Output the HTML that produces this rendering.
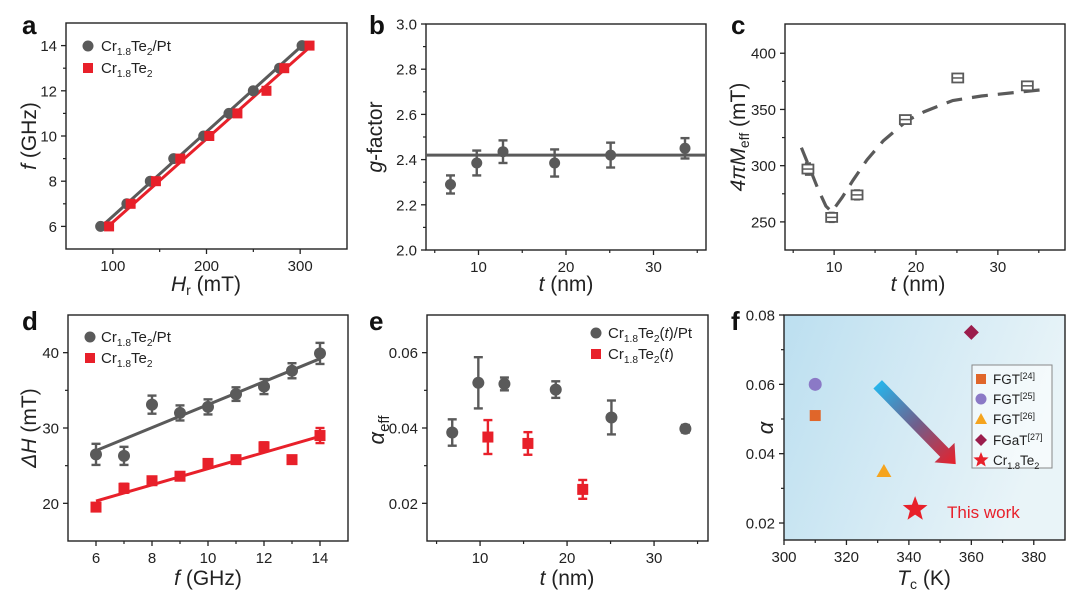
<!DOCTYPE html>
<html><head><meta charset="utf-8"><style>
html,body{margin:0;padding:0;background:#fff;}
svg{display:block;font-family:"Liberation Sans",Arial,sans-serif;}
</style></head><body>
<svg id="fig" width="1080" height="607" viewBox="0 0 1080 607" xmlns="http://www.w3.org/2000/svg">
<defs>
<linearGradient id="bgf" x1="0" y1="0" x2="1" y2="0.3">
<stop offset="0" stop-color="#bcdff0"/><stop offset="1" stop-color="#e9f4f8"/>
</linearGradient>
<linearGradient id="arrg" x1="0" y1="0" x2="1" y2="1">
<stop offset="0" stop-color="#2eb3e6"/><stop offset="0.5" stop-color="#7a5a8a"/><stop offset="1" stop-color="#e8202a"/>
</linearGradient>
</defs>
</svg>
<script>
// ---------- data ----------
const aGrayH=[87,115,140,165,197,224,250,278,302];
const aGrayF=[6,7,8,9,10,11,12,13,14];
const aRedH=[96,119,146,172,203,233,264,283,310];
const aRedF=[6,7,8,9,10,11,12,13,14];
const aGrayFit=[[88,6],[302,14]];
const aRedFit=[[95,6],[312,14]];

const bT=[6.8,9.8,12.8,18.7,25.1,33.6];
const bG=[2.29,2.385,2.435,2.385,2.42,2.45];
const bErr=[0.04,0.055,0.05,0.06,0.055,0.045];
const bFit=2.42;

const cT=[6.8,9.7,12.8,18.7,25.1,33.6];
const cM=[297,254,274,341,378,371];
const cErr=[5,4,4,3,3,3];
const cCurveT=[6,7,8,9,9.7,11,12.3,14,16,18.9,21,24.5,28,32,36];
const cCurveM=[316,298,280,264,259,272,287,305,322,340,348,358,362,365,368];

const dF=[6,7,8,9,10,11,12,13,14];
const dGray=[26.5,26.3,33.1,32.0,32.8,34.5,35.5,37.6,39.9];
const dGrayErr=[1.4,1.2,1.2,1.0,1.0,0.9,1.0,1.0,1.4];
const dRed=[19.5,22.0,23.0,23.6,25.3,25.8,27.5,25.8,29.0];
const dRedErr=[0.5,0.6,0.5,0.5,0.5,0.5,0.6,0.3,1.0];
const dGrayFit=[[6,27.0],[14,39.2]];
const dRedFit=[[6,20.3],[14,28.9]];

const eGrayT=[6.8,9.8,12.8,18.7,25.1,33.6];
const eGray=[0.0388,0.052,0.0517,0.0502,0.0428,0.0398];
const eGrayErr=[0.0035,0.0068,0.0017,0.0022,0.0045,0.001];
const eRedT=[10.9,15.5,21.8];
const eRed=[0.0376,0.0359,0.0237];
const eRedErr=[0.0045,0.003,0.0025];

const fNames=["FGT[24]","FGT[25]","FGT[26]","FGaT[27]","Cr1.8Te2"];
const fTc=[310,310,332,360,342];
const fAlpha=[0.051,0.060,0.035,0.075,0.024];
const fArrow=[[330,0.060],[355,0.037]];

// ---------- helpers ----------
const NS="http://www.w3.org/2000/svg";
const svg=document.getElementById('fig');
function el(tag,attrs,parent,text){
  const e=document.createElementNS(NS,tag);
  for(const k in attrs) e.setAttribute(k,attrs[k]);
  if(text!==undefined) e.textContent=text;
  (parent||svg).appendChild(e);
  return e;
}
const GRAY="#5a5a5a", RED="#e8202a";

function axes(name,box,xd,yd,xt,yt,xminor,yminor,xfmt,yfmt,bg){
  const g=el('g',{});
  
  
  const sx=v=>box[0]+(v-xd[0])/(xd[1]-xd[0])*(box[2]-box[0]);
  const sy=v=>box[3]-(v-yd[0])/(yd[1]-yd[0])*(box[3]-box[1]);
  if(bg){const r=el('rect',{x:box[0],y:box[1],width:box[2]-box[0],height:box[3]-box[1],fill:bg},g);
    
    }
  const xa=el('g',{},g);
  
  
  const ya=el('g',{},g);
  
  
  xt.forEach(v=>{const x=sx(v);
    el('line',{x1:x,y1:box[3],x2:x,y2:box[3]+5,stroke:"#222","stroke-width":1.3},xa);
    const t=el('text',{x:x,y:box[3]+22,"text-anchor":"middle","font-size":15,fill:"#222"},xa,xfmt(v));
    
    });
  xminor.forEach(v=>{const x=sx(v);el('line',{x1:x,y1:box[3],x2:x,y2:box[3]+3,stroke:"#222","stroke-width":1.2},xa);});
  yt.forEach(v=>{const y=sy(v);
    el('line',{x1:box[0],y1:y,x2:box[0]-5,y2:y,stroke:"#222","stroke-width":1.3},ya);
    const t=el('text',{x:box[0]-9,y:y+5.5,"text-anchor":"end","font-size":15,fill:"#222"},ya,yfmt(v));
    
    });
  yminor.forEach(v=>{const y=sy(v);el('line',{x1:box[0],y1:y,x2:box[0]-3,y2:y,stroke:"#222","stroke-width":1.2},ya);});
  const fr=el('rect',{x:box[0],y:box[1],width:box[2]-box[0],height:box[3]-box[1],fill:"none",stroke:"#222","stroke-width":1.4},g);
  
  
  return {g,sx,sy};
}
function errbar(g,x,y1,y2,color,w){
  el('line',{x1:x,y1:y1,x2:x,y2:y2,stroke:color,"stroke-width":2.4},g);
  el('line',{x1:x-w,y1:y1,x2:x+w,y2:y1,stroke:color,"stroke-width":2.4},g);
  el('line',{x1:x-w,y1:y2,x2:x+w,y2:y2,stroke:color,"stroke-width":2.4},g);
}
function label(txt,x,y){const t=el('text',{x:x,y:y,"font-size":26,"font-weight":"bold",fill:"#111"},svg,txt);
  
  }
function crTe(parent,x,y,size,suffix,italicT){
  const t=el('text',{x:x,y:y,"font-size":size,fill:"#222"},parent);
  t.appendChild(document.createTextNode('Cr'));
  el('tspan',{"font-size":size*0.68,dy:4},t,'1.8');
  el('tspan',{dy:-4},t,'Te');
  el('tspan',{"font-size":size*0.68,dy:4},t,'2');
  if(suffix){el('tspan',{dy:-4},t,suffix[0]);
    if(suffix[1]){el('tspan',{"font-style":"italic"},t,suffix[1]);el('tspan',{},t,suffix[2]);}}
  return t;
}
const fmt0=v=>String(v), fmt1=v=>v.toFixed(1), fmt2=v=>v.toFixed(2);

// ---------- panel a ----------
label('a',22,34);
{
 const A=axes('panel-a-chart',[66,23,347,249],[50,350],[5,15],[100,200,300],[6,8,10,12,14],[150,250],[7,9,11,13],fmt0,fmt0);
 const g=A.g;
 const fg=el('line',{x1:A.sx(aGrayFit[0][0]),y1:A.sy(aGrayFit[0][1]),x2:A.sx(aGrayFit[1][0]),y2:A.sy(aGrayFit[1][1]),stroke:GRAY,"stroke-width":3},g);
 
 
 const fr=el('line',{x1:A.sx(aRedFit[0][0]),y1:A.sy(aRedFit[0][1]),x2:A.sx(aRedFit[1][0]),y2:A.sy(aRedFit[1][1]),stroke:RED,"stroke-width":3},g);
 
 
 aGrayH.forEach((h,i)=>{const c=el('circle',{cx:A.sx(h),cy:A.sy(aGrayF[i]),r:5.5,fill:GRAY},g);
  
  });
 aRedH.forEach((h,i)=>{const c=el('rect',{x:A.sx(h)-5,y:A.sy(aRedF[i])-5,width:10,height:10,fill:RED},g);
  
  });
 const lg=el('g',{},g);
 
 
 el('circle',{cx:88,cy:46,r:5.5,fill:GRAY},lg); crTe(lg,101,51,15,['/Pt']);
 el('rect',{x:83,y:63,width:10,height:10,fill:RED},lg); crTe(lg,101,73,15);
 const xt=el('text',{x:206,y:291,"text-anchor":"middle","font-size":21,fill:"#222"});
 
 
 el('tspan',{"font-style":"italic"},xt,'H'); el('tspan',{"font-size":14,dy:4},xt,'r'); el('tspan',{dy:-4},xt,' (mT)');
 const yt=el('text',{x:0,y:0,transform:"translate(36,136) rotate(-90)","text-anchor":"middle","font-size":21,fill:"#222"});
 
 
 el('tspan',{"font-style":"italic"},yt,'f'); el('tspan',{},yt,' (GHz)');
}

// ---------- panel b ----------
label('b',369,34);
{
 const B=axes('panel-b-chart',[426,24,706,250],[4,36],[2.0,3.0],[10,20,30],[2.0,2.2,2.4,2.6,2.8,3.0],[5,15,25,35],[2.1,2.3,2.5,2.7,2.9],fmt0,fmt1);
 const g=B.g;
 const fl=el('line',{x1:426,y1:B.sy(bFit),x2:706,y2:B.sy(bFit),stroke:GRAY,"stroke-width":3},g);
 
 
 bT.forEach((t,i)=>{errbar(g,B.sx(t),B.sy(bG[i]+bErr[i]),B.sy(bG[i]-bErr[i]),GRAY,4.5);
  const c=el('circle',{cx:B.sx(t),cy:B.sy(bG[i]),r:5.5,fill:GRAY},g);
  
  });
 const xt=el('text',{x:566,y:291,"text-anchor":"middle","font-size":21,fill:"#222"});
 
 
 el('tspan',{"font-style":"italic"},xt,'t'); el('tspan',{},xt,' (nm)');
 const yt=el('text',{x:0,y:0,transform:"translate(382,137) rotate(-90)","text-anchor":"middle","font-size":21,fill:"#222"});
 
 
 el('tspan',{"font-style":"italic"},yt,'g'); el('tspan',{},yt,'-factor');
}

// ---------- panel c ----------
label('c',731,34);
{
 const C=axes('panel-c-chart',[785,24,1065,250],[4,38.2],[225,426],[10,20,30],[250,300,350,400],[5,15,25,35],[275,325,375],fmt0,fmt0);
 const g=C.g;
 const d=cCurveT.map((t,i)=>(i?'L':'M')+C.sx(t).toFixed(1)+','+C.sy(cCurveM[i]).toFixed(1)).join(' ');
 const p=el('path',{d:d,fill:"none",stroke:GRAY,"stroke-width":3.2,"stroke-dasharray":"16,10"},g);
 
 
 cT.forEach((t,i)=>{const x=C.sx(t),y=C.sy(cM[i]);
  errbar(g,x,C.sy(cM[i]+cErr[i]),C.sy(cM[i]-cErr[i]),GRAY,3);
  const r=el('rect',{x:x-5.5,y:y-4.5,width:11,height:9,fill:"#fff",stroke:GRAY,"stroke-width":1.8},g);
  
  
  el('line',{x1:x-5.5,y1:y,x2:x+5.5,y2:y,stroke:GRAY,"stroke-width":1.5},g);});
 const xt=el('text',{x:918,y:291,"text-anchor":"middle","font-size":21,fill:"#222"});
 
 
 el('tspan',{"font-style":"italic"},xt,'t'); el('tspan',{},xt,' (nm)');
 const yt=el('text',{x:0,y:0,transform:"translate(745,137) rotate(-90)","text-anchor":"middle","font-size":21,fill:"#222"});
 
 
 el('tspan',{"font-style":"italic"},yt,'4πM'); el('tspan',{"font-size":14,dy:4},yt,'eff'); el('tspan',{dy:-4},yt,' (mT)');
}

// ---------- panel d ----------
label('d',22,330);
{
 const D=axes('panel-d-chart',[68,315,348,541],[5,15],[15,45],[6,8,10,12,14],[20,30,40],[7,9,11,13],[25,35],fmt0,fmt0);
 const g=D.g;
 const l1=el('line',{x1:D.sx(dGrayFit[0][0]),y1:D.sy(dGrayFit[0][1]),x2:D.sx(dGrayFit[1][0]),y2:D.sy(dGrayFit[1][1]),stroke:GRAY,"stroke-width":3},g);
 
 
 const l2=el('line',{x1:D.sx(dRedFit[0][0]),y1:D.sy(dRedFit[0][1]),x2:D.sx(dRedFit[1][0]),y2:D.sy(dRedFit[1][1]),stroke:RED,"stroke-width":3},g);
 
 
 dF.forEach((f,i)=>{const x=D.sx(f);
  errbar(g,x,D.sy(dGray[i]+dGrayErr[i]),D.sy(dGray[i]-dGrayErr[i]),GRAY,4.5);
  const c=el('circle',{cx:x,cy:D.sy(dGray[i]),r:6,fill:GRAY},g);
  
  
  errbar(g,x,D.sy(dRed[i]+dRedErr[i]),D.sy(dRed[i]-dRedErr[i]),RED,4.5);
  const r=el('rect',{x:x-5.5,y:D.sy(dRed[i])-5.5,width:11,height:11,fill:RED},g);
  
  });
 const lg=el('g',{},g);
 
 
 el('circle',{cx:90,cy:337,r:5.5,fill:GRAY},lg); crTe(lg,101,342,15,['/Pt']);
 el('rect',{x:85,y:353,width:10,height:10,fill:RED},lg); crTe(lg,101,363,15);
 const xt=el('text',{x:208,y:585,"text-anchor":"middle","font-size":21,fill:"#222"});
 
 
 el('tspan',{"font-style":"italic"},xt,'f'); el('tspan',{},xt,' (GHz)');
 const yt=el('text',{x:0,y:0,transform:"translate(36,428) rotate(-90)","text-anchor":"middle","font-size":21,fill:"#222"});
 
 
 el('tspan',{"font-style":"italic"},yt,'ΔH'); el('tspan',{},yt,' (mT)');
}

// ---------- panel e ----------
label('e',369,330);
{
 const E=axes('panel-e-chart',[427,315,708,541],[3.9,36.2],[0.01,0.07],[10,20,30],[0.02,0.04,0.06],[5,15,25,35],[0.03,0.05],fmt0,fmt2);
 const g=E.g;
 eGrayT.forEach((t,i)=>{const x=E.sx(t);
  errbar(g,x,E.sy(eGray[i]+eGrayErr[i]),E.sy(eGray[i]-eGrayErr[i]),GRAY,4.5);
  const c=el('circle',{cx:x,cy:E.sy(eGray[i]),r:6,fill:GRAY},g);
  
  });
 eRedT.forEach((t,i)=>{const x=E.sx(t);
  errbar(g,x,E.sy(eRed[i]+eRedErr[i]),E.sy(eRed[i]-eRedErr[i]),RED,4.5);
  const r=el('rect',{x:x-5.5,y:E.sy(eRed[i])-5.5,width:11,height:11,fill:RED},g);
  
  });
 const lg=el('g',{},g);
 
 
 el('circle',{cx:596,cy:333,r:5.5,fill:GRAY},lg); crTe(lg,608,338,15,['(','t',')/Pt']);
 el('rect',{x:591,y:349,width:10,height:10,fill:RED},lg); crTe(lg,608,359,15,['(','t',')']);
 const xt=el('text',{x:567,y:585,"text-anchor":"middle","font-size":21,fill:"#222"});
 
 
 el('tspan',{"font-style":"italic"},xt,'t'); el('tspan',{},xt,' (nm)');
 const yt=el('text',{x:0,y:0,transform:"translate(384,430) rotate(-90)","text-anchor":"middle","font-size":22,fill:"#222"});
 
 
 el('tspan',{"font-style":"italic"},yt,'α'); el('tspan',{"font-size":15,dy:5},yt,'eff');
}

// ---------- panel f ----------
label('f',731,330);
{
 const F=axes('panel-f-chart',[784,315,1065,540],[300,390],[0.0151,0.08],[300,320,340,360,380],[0.02,0.04,0.06,0.08],[310,330,350,370],[0.03,0.05,0.07],fmt0,fmt2,"url(#bgf)");
 const g=F.g;
 // arrow
 const ax1=F.sx(fArrow[0][0]),ay1=F.sy(fArrow[0][1]),ax2=F.sx(fArrow[1][0]),ay2=F.sy(fArrow[1][1]);
 const ang=Math.atan2(ay2-ay1,ax2-ax1), L=Math.hypot(ax2-ax1,ay2-ay1);
 const ag=el('g',{transform:`translate(${ax1},${ay1}) rotate(${ang*180/Math.PI})`},g);
 
 
 const gr=el('linearGradient',{id:'arrh',x1:0,y1:0,x2:1,y2:0},ag);
 el('stop',{offset:0,'stop-color':'#27b4ea'},gr);el('stop',{offset:0.5,'stop-color':'#6f5f8c'},gr);el('stop',{offset:1,'stop-color':'#e8202a'},gr);
 el('polygon',{points:`0,-6 ${L-16},-6 ${L-16},-14 ${L},0 ${L-16},14 ${L-16},6 0,6`,fill:"url(#arrh)"},ag);
 // markers
 const col=["#e0662a","#8b79c6","#f5a41e","#9b1d4c",RED];
 fTc.forEach((t,i)=>{const x=F.sx(t),y=F.sy(fAlpha[i]);let m;
  if(i===0) m=el('rect',{x:x-5.5,y:y-5.5,width:11,height:11,fill:col[0]},g);
  else if(i===1) m=el('circle',{cx:x,cy:y,r:6.5,fill:col[1]},g);
  else if(i===2) m=el('polygon',{points:`${x},${y-7} ${x+7.5},${y+6} ${x-7.5},${y+6}`,fill:col[2]},g);
  else if(i===3) m=el('polygon',{points:`${x},${y-7.5} ${x+7.5},${y} ${x},${y+7.5} ${x-7.5},${y}`,fill:col[3]},g);
  else { const pts=[];for(let k=0;k<10;k++){const r=k%2?5.5:13,a=-Math.PI/2+k*Math.PI/5;pts.push((x+r*Math.cos(a)).toFixed(1)+','+(y+r*Math.sin(a)).toFixed(1));}
    m=el('polygon',{points:pts.join(' '),fill:col[4]},g);}
  
  });
 const tw=el('text',{x:947,y:518,"font-size":17,fill:RED},g,'This work');
 
 
 // legend
 const lg=el('g',{},g);
 
 
 el('rect',{x:972,y:365,width:80,height:103,fill:"#fff","fill-opacity":0.55,stroke:"#888","stroke-width":1},lg);
 const ly=[379,399,419,440,460];
 el('rect',{x:976,y:ly[0]-5,width:10,height:10,fill:col[0]},lg);
 el('circle',{cx:981,cy:ly[1],r:5.5,fill:col[1]},lg);
 el('polygon',{points:`981,${ly[2]-6} 987,${ly[2]+5} 975,${ly[2]+5}`,fill:col[2]},lg);
 el('polygon',{points:`981,${ly[3]-6} 987,${ly[3]} 981,${ly[3]+6} 975,${ly[3]}`,fill:col[3]},lg);
 {const x=981,y=ly[4];const pts=[];for(let k=0;k<10;k++){const r=k%2?3.5:8,a=-Math.PI/2+k*Math.PI/5;pts.push((x+r*Math.cos(a)).toFixed(1)+','+(y+r*Math.sin(a)).toFixed(1));}
  el('polygon',{points:pts.join(' '),fill:col[4]},lg);}
 const refs=['[24]','[25]','[26]','[27]'];
 for(let i=0;i<4;i++){const t=el('text',{x:993,y:ly[i]+5,"font-size":13.5,fill:"#222"},lg,i===3?'FGaT':'FGT');
   el('tspan',{"font-size":9,dy:-5},t,refs[i]);}
 crTe(lg,993,ly[4]+5,13.5);
 const xt=el('text',{x:924,y:585,"text-anchor":"middle","font-size":21,fill:"#222"});
 
 
 el('tspan',{"font-style":"italic"},xt,'T'); el('tspan',{"font-size":14,dy:4},xt,'c'); el('tspan',{dy:-4},xt,' (K)');
 const yt=el('text',{x:0,y:0,transform:"translate(773,428) rotate(-90)","text-anchor":"middle","font-size":22,"font-style":"italic",fill:"#222"},svg,'α');
 
 
}
</script>
</body></html>
